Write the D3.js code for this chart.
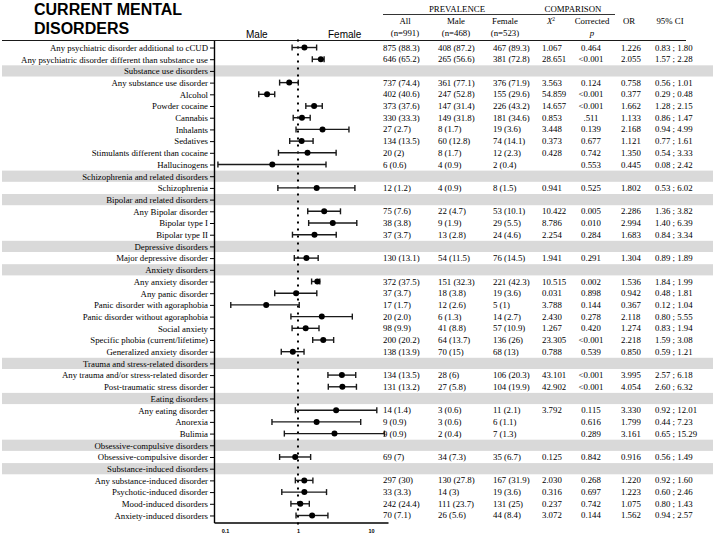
<!DOCTYPE html>
<html><head><meta charset="utf-8">
<script src="https://cdn.jsdelivr.net/npm/d3@7"></script>
<style>body{margin:0;background:#fff}svg{display:block}</style>
</head><body>
<svg id="c" width="716" height="537"></svg>
<script>
// ---------- DATA ----------
const rowLabels = [
  "Any psychiatric disorder additional to cCUD",
  "Any psychiatric disorder different than substance use",
  "Substance use disorders",
  "Any substance use disorder","Alcohol","Powder cocaine","Cannabis","Inhalants","Sedatives",
  "Stimulants different than cocaine","Hallucinogens",
  "Schizophrenia and related disorders",
  "Schizophrenia",
  "Bipolar and related disorders",
  "Any Bipolar disorder","Bipolar type I","Bipolar type II",
  "Depressive disorders",
  "Major depressive disorder",
  "Anxiety disorders",
  "Any anxiety disorder","Any panic disorder","Panic disorder with agoraphobia",
  "Panic disorder without agoraphobia","Social anxiety","Specific phobia (current/lifetime)",
  "Generalized anxiety disorder",
  "Trauma and stress-related disorders",
  "Any trauma and/or stress-related disorder","Post-traumatic stress disorder",
  "Eating disorders",
  "Any eating disorder","Anorexia","Bulimia",
  "Obsessive-compulsive disorders",
  "Obsessive-compulsive disorder",
  "Substance-induced disorders",
  "Any substance-induced disorder","Psychotic-induced disorder","Mood-induced disorders",
  "Anxiety-induced disorders"
];
const sectionHeaders = [
  "Substance use disorders","Schizophrenia and related disorders","Bipolar and related disorders",
  "Depressive disorders","Anxiety disorders","Trauma and stress-related disorders",
  "Eating disorders","Obsessive-compulsive disorders","Substance-induced disorders"
];
const colAll = ["875 (88.3)","646 (65.2)","","737 (74.4)","402 (40.6)","373 (37.6)","330 (33.3)","27 (2.7)","134 (13.5)","20 (2)","6 (0.6)","","12 (1.2)","","75 (7.6)","38 (3.8)","37 (3.7)","","130 (13.1)","","372 (37.5)","37 (3.7)","17 (1.7)","20 (2.0)","98 (9.9)","200 (20.2)","138 (13.9)","","134 (13.5)","131 (13.2)","","14 (1.4)","9 (0.9)","9 (0.9)","","69 (7)","","297 (30)","33 (3.3)","242 (24.4)","70 (7.1)"];
const colMale = ["408 (87.2)","265 (56.6)","","361 (77.1)","247 (52.8)","147 (31.4)","149 (31.8)","8 (1.7)","60 (12.8)","8 (1.7)","4 (0.9)","","4 (0.9)","","22 (4.7)","9 (1.9)","13 (2.8)","","54 (11.5)","","151 (32.3)","18 (3.8)","12 (2.6)","6 (1.3)","41 (8.8)","64 (13.7)","70 (15)","","28 (6)","27 (5.8)","","3 (0.6)","3 (0.6)","2 (0.4)","","34 (7.3)","","130 (27.8)","14 (3)","111 (23.7)","26 (5.6)"];
const colFemale = ["467 (89.3)","381 (72.8)","","376 (71.9)","155 (29.6)","226 (43.2)","181 (34.6)","19 (3.6)","74 (14.1)","12 (2.3)","2 (0.4)","","8 (1.5)","","53 (10.1)","29 (5.5)","24 (4.6)","","76 (14.5)","","221 (42.3)","19 (3.6)","5 (1)","14 (2.7)","57 (10.9)","136 (26)","68 (13)","","106 (20.3)","104 (19.9)","","11 (2.1)","6 (1.1)","7 (1.3)","","35 (6.7)","","167 (31.9)","19 (3.6)","131 (25)","44 (8.4)"];
const colChi = ["1.067","28.651","","3.563","54.859","14.657","0.853","3.448","0.373","0.428","","","0.941","","10.422","8.786","2.254","","1.941","","10.515","0.031","3.788","2.430","1.267","23.305","0.788","","43.101","42.902","","3.792","","","","0.125","","2.030","0.316","0.237","3.072"];
const colP = ["0.464","<0.001","","0.124","<0.001","<0.001",".511","0.139","0.677","0.742","0.553","","0.525","","0.005","0.010","0.284","","0.291","","0.002","0.898","0.144","0.278","0.420","<0.001","0.539","","<0.001","<0.001","","0.115","0.616","0.289","","0.842","","0.268","0.697","0.742","0.144"];
const colOR = ["1.226","2.055","","0.758","0.377","1.662","1.133","2.168","1.121","1.350","0.445","","1.802","","2.286","2.994","1.683","","1.304","","1.536","0.942","0.367","2.118","1.274","2.218","0.850","","3.995","4.054","","3.330","1.799","3.161","","0.916","","1.220","1.223","1.075","1.562"];
const colCI = ["0.83 ; 1.80","1.57 ; 2.28","","0.56 ; 1.01","0.29 ; 0.48","1.28 ; 2.15","0.86 ; 1.47","0.94 ; 4.99","0.77 ; 1.61","0.54 ; 3.33","0.08 ; 2.42","","0.53 ; 6.02","","1.36 ; 3.82","1.40 ; 6.39","0.84 ; 3.34","","0.89 ; 1.89","","1.84 ; 1.99","0.48 ; 1.81","0.12 ; 1.04","0.80 ; 5.55","0.83 ; 1.94","1.59 ; 3.08","0.59 ; 1.21","","2.57 ; 6.18","2.60 ; 6.32","","0.92 ; 12.01","0.44 ; 7.23","0.65 ; 15.29","","0.56 ; 1.49","","0.92 ; 1.60","0.60 ; 2.46","0.80 ; 1.43","0.94 ; 2.57"];
// plotted estimates (as drawn in the forest plot)
const plotOR = [1.226,2.055,null,0.758,0.377,1.662,1.133,2.168,1.121,1.350,0.445,null,1.802,null,2.286,2.994,1.683,null,1.304,null,1.84,0.942,0.367,2.118,1.274,2.218,0.850,null,3.995,4.054,null,3.330,1.799,3.161,null,0.916,null,1.220,1.223,1.075,1.562];
const plotLo = [0.83,1.57,null,0.56,0.29,1.28,0.86,0.94,0.77,0.54,0.08,null,0.53,null,1.36,1.40,0.84,null,0.89,null,1.536,0.48,0.12,0.80,0.83,1.59,0.59,null,2.57,2.60,null,0.92,0.44,0.65,null,0.56,null,0.92,0.60,0.80,0.94];
const plotHi = [1.80,2.28,null,1.01,0.48,2.15,1.47,4.99,1.61,3.33,2.42,null,6.02,null,3.82,6.39,3.34,null,1.89,null,1.99,1.81,1.04,5.55,1.94,3.08,1.21,null,6.18,6.32,null,12.01,7.23,15.29,null,1.49,null,1.60,2.46,1.43,2.57];
const xTicks = [0.1, 1, 10];
const groupTitles = ["PREVALENCE","COMPARISON"];
const colHeads1 = ["All","Male","Female","X²","Corrected","OR","95% CI"];
const colHeads2 = ["(n=991)","(n=468)","(n=523)","","p","",""];

// ---------- LAYOUT ----------
const svg = d3.select("#c");
const serif = "'Liberation Serif','Times New Roman',serif";
const sans = "'Liberation Sans',Arial,sans-serif";
const fs = 8.8;
const panelTop = 40.5, panelBot = 522.5, axX = 214, axR = 388;

const idx = d3.range(rowLabels.length);
const y = d3.scalePoint().domain(idx).range([panelTop, panelBot]).padding(0.6);
const x = d3.scaleLog().domain([0.0707, 17.1]).range([axX, axR]);

// grey section bands
svg.append("g").selectAll("rect")
  .data(idx.filter(i => sectionHeaders.includes(rowLabels[i])))
  .join("rect")
  .attr("x", 2).attr("width", 711)
  .attr("y", i => y(i) - 5.6).attr("height", 11.2)
  .attr("fill", "#d9d9d9");

// title
svg.append("text").attr("x", 34).attr("y", 15).text("CURRENT MENTAL")
  .attr("font-family", sans).attr("font-weight", "bold").attr("font-size", 16);
svg.append("text").attr("x", 34).attr("y", 33.5).text("DISORDERS")
  .attr("font-family", sans).attr("font-weight", "bold").attr("font-size", 16);
svg.append("text").attr("x", 246).attr("y", 37.5).text("Male")
  .attr("font-family", sans).attr("font-size", 10);
svg.append("text").attr("x", 328).attr("y", 37.5).text("Female")
  .attr("font-family", sans).attr("font-size", 10);

// table header
const colLeft = [383, 438, 493, 542, null, 621, 655];
const headCenter = [405, 456, 505, 551, 592, 629, 670];
svg.append("text").attr("x", 457).attr("y", 12).attr("text-anchor","middle").text(groupTitles[0])
  .attr("font-family", serif).attr("font-size", fs);
svg.append("text").attr("x", 573).attr("y", 12).attr("text-anchor","middle").text(groupTitles[1])
  .attr("font-family", serif).attr("font-size", fs);
svg.append("line").attr("x1", 383).attr("x2", 615).attr("y1", 14.5).attr("y2", 14.5)
  .attr("stroke", "#000").attr("stroke-width", 0.8);
colHeads1.forEach((t, j) => {
  const tx = svg.append("text").attr("x", headCenter[j]).attr("y", 24).attr("text-anchor","middle")
    .attr("font-family", serif).attr("font-size", fs);
  if (t === "X²") {
    tx.append("tspan").attr("font-style","italic").text("X");
    tx.append("tspan").attr("font-size", 5.5).attr("dy", -3.5).text("2");
  } else tx.text(t);
});
colHeads2.forEach((t, j) => {
  if (!t) return;
  svg.append("text").attr("x", headCenter[j]).attr("y", 36).attr("text-anchor","middle")
    .attr("font-family", serif).attr("font-size", fs)
    .attr("font-style", t === "p" ? "italic" : "normal").text(t);
});
svg.append("line").attr("x1", 2).attr("x2", 686).attr("y1", panelTop).attr("y2", panelTop)
  .attr("stroke", "#000").attr("stroke-width", 0.9);

// table body
const cols = [colAll, colMale, colFemale, colChi, colP, colOR, colCI];
cols.forEach((col, j) => {
  svg.append("g").selectAll("text").data(idx).join("text")
    .attr("x", j === 4 ? 591 : colLeft[j])
    .attr("text-anchor", j === 4 ? "middle" : "start")
    .attr("y", i => y(i) + 3)
    .attr("font-family", serif).attr("font-size", fs)
    .text(i => col[i]);
});

// left axis with labels
const yAxis = d3.axisLeft(y).tickSize(4).tickSizeOuter(0).tickPadding(2)
  .tickFormat(i => rowLabels[i]);
const gy = svg.append("g").attr("transform", `translate(${axX},0)`).call(yAxis);
gy.selectAll("text").attr("font-family", serif).attr("font-size", fs).attr("fill", "#000");
gy.selectAll("line").attr("stroke", "#000");
gy.select(".domain").attr("stroke", "#000").attr("stroke-width", 1.4);

// bottom axis
const xAxis = d3.axisBottom(x).tickValues(xTicks).tickSize(0).tickSizeOuter(0).tickPadding(7)
  .tickFormat(d3.format("~g"));
const gx = svg.append("g").attr("transform", `translate(0,${panelBot})`).call(xAxis);
gx.selectAll("text").attr("font-family", sans).attr("font-weight", "bold").attr("font-size", 5.5).attr("fill", "#000");
gx.select(".domain").attr("stroke", "#000").attr("stroke-width", 1.4);

// reference line at OR = 1
svg.append("line").attr("x1", x(1)).attr("x2", x(1)).attr("y1", panelTop - 1).attr("y2", panelBot + 2)
  .attr("stroke", "#000").attr("stroke-width", 2).attr("stroke-dasharray", "2,5");

// error bars + points
const pts = idx.filter(i => plotOR[i] != null);
const g = svg.append("g");
g.selectAll("line.ci").data(pts).join("line").attr("class","ci")
  .attr("x1", i => x(plotLo[i])).attr("x2", i => x(plotHi[i]))
  .attr("y1", i => y(i)).attr("y2", i => y(i))
  .attr("stroke", "#1a1a1a").attr("stroke-width", 1.4);
["lo","hi"].forEach(k => {
  const arr = k === "lo" ? plotLo : plotHi;
  g.selectAll("line.cap" + k).data(pts).join("line").attr("class","cap" + k)
    .attr("x1", i => x(arr[i])).attr("x2", i => x(arr[i]))
    .attr("y1", i => y(i) - 3).attr("y2", i => y(i) + 3)
    .attr("stroke", "#1a1a1a").attr("stroke-width", 1.4);
});
g.selectAll("circle").data(pts).join("circle")
  .attr("cx", i => x(plotOR[i])).attr("cy", i => y(i)).attr("r", 3)
  .attr("fill", "#000");
</script>
</body></html>
